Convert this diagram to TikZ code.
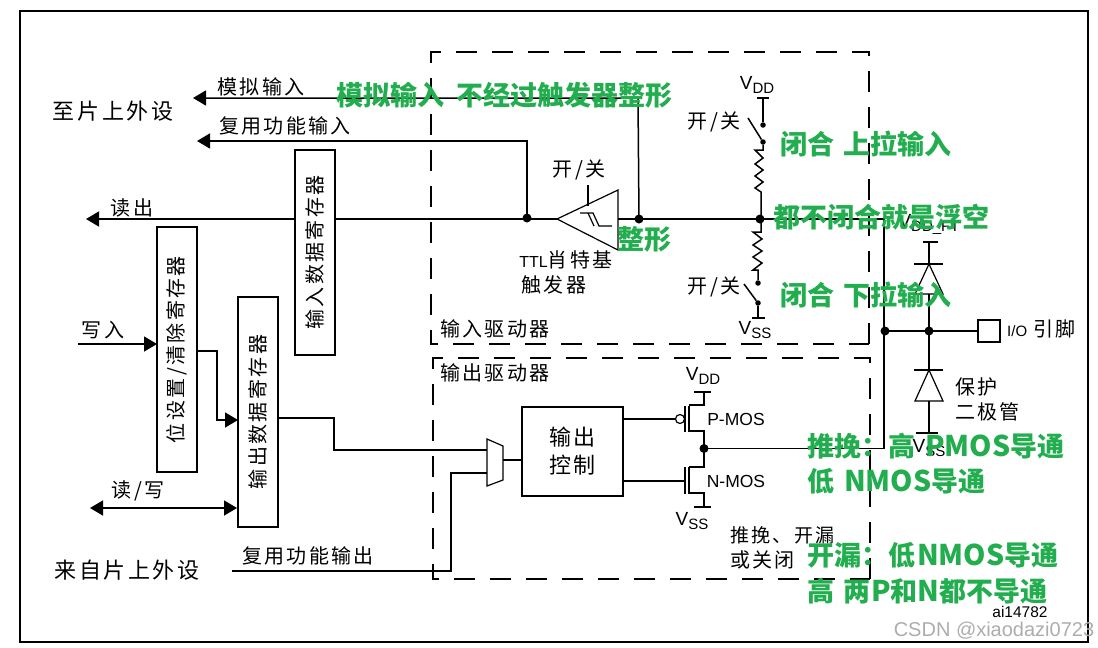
\documentclass[tikz,border=0pt]{standalone}
\usepackage{fontspec}
\usetikzlibrary{arrows.meta,shapes.geometric}
\setmainfont{Liberation Sans}
\newfontfamily\cjk[LetterSpace=12]{Noto Sans CJK SC}
\newfontfamily\gcjk{Noto Sans CJK SC}
\definecolor{anno}{RGB}{34,174,78}
\newcommand{\VV}[2]{{\fontsize{19}{19}\selectfont #1}\raisebox{-4pt}{\fontsize{15}{15}\selectfont #2}}
\newcommand{\gp}[1]{\hspace*{#1pt}}
\newcommand{\LL}[1]{{\fontsize{28.5}{28}\selectfont #1}}
\tikzset{
  wire/.style={draw=black,line width=1.5pt},
  thin wire/.style={draw=black,line width=1.2pt},
  arr/.style={wire,-{Triangle[length=13pt,width=15pt]}},
  darr/.style={wire,{Triangle[length=13pt,width=15pt]}-{Triangle[length=13pt,width=15pt]}},
  dashbox/.style={draw=black,line width=1.2pt,dash pattern=on 21pt off 15pt},
  reg/.style={draw=black,line width=1.7pt,fill=white,rotate=90,inner sep=0pt,font=\cjk\fontsize{20}{20}\selectfont},
  dotn/.style={circle,fill=black,inner sep=0pt,minimum size=9pt},
  sdot/.style={circle,fill=black,inner sep=0pt,minimum size=5.5pt},
  lbl/.style={inner sep=0pt,text=black,font=\cjk\fontsize{20}{20}\selectfont},
  lat/.style={inner sep=0pt,text=black,font=\fontsize{17.5}{17.5}\selectfont},
  note/.style={inner sep=0pt,text=anno,font=\gcjk\bfseries\fontsize{27}{27}\selectfont},
}
\begin{document}
\begin{tikzpicture}[x=1pt,y=-1pt]
\useasboundingbox (0,0) rectangle (1098,648);
\fill[white] (0,0) rectangle (1098,648);
\draw[line width=1.7pt] (20,11) rectangle (1088,642);
% driver frames
\draw[dashbox] (869,344) -- (869,52) -- (431,52) -- (431,344) -- cycle;
\draw[dashbox] (870,579) -- (870,358) -- (433,358) -- (433,579) -- cycle;

% junctions
\node[dotn] (jread) at (527,218) {};
\node[dotn] (jtrig) at (639,219) {};
\node[dotn] (jpull) at (760,219) {};
\node[dotn] (jout) at (704,448.5) {};
\node[dotn] (jio1) at (885,331) {};
\node[dotn] (jio2) at (929,331) {};

% schmitt trigger
\coordinate (tip) at (557,219);
\coordinate (trigt) at (618,190);
\coordinate (trigb) at (618,250);
\coordinate (trigout) at (618,219);
\draw[thin wire] (tip) -- (trigt) -- (trigb) -- cycle;
\draw[thin wire] (588,185) -- (588,206);
\draw[thin wire] (580,213) -- (593,213) -- (599,226) -- (612,226);
\draw[thin wire] (588,213) -- (594,226);

% analog / alternate / read wires
\coordinate (analog) at (193,98);
\coordinate (analogc) at (638,98);
\coordinate (alt) at (197,141);
\coordinate (altc) at (527,141);
\coordinate (readend) at (86,219);
\draw[arr] (jtrig.center) -- (analogc) -- (analog);
\draw[arr] (jread.center) -- (altc) -- (alt);
\draw[arr] (tip) -- (readend);
\draw[wire] (trigout) -- (jpull.center);

% registers
\node[reg,minimum width=205pt,minimum height=40pt] (inreg) at (315,252.5) {输入数据寄存器};
\node[reg,minimum width=245pt,minimum height=40pt] (bsr) at (177,349.5) {位设置/清除寄存器};
\node[reg,minimum width=230pt,minimum height=40pt] (outreg) at (258,412) {输出数据寄存器};

% left wires
\coordinate (wr) at (78,344);
\coordinate (bsrin) at (157,344);
\coordinate (bsrout) at (197,351);
\coordinate (oregin) at (238,420);
\coordinate (rw) at (90,508);
\coordinate (rwend) at (237,508);
\draw[arr] (wr) -- (bsrin);
\draw[arr] (bsrout) -- (217,351) -- (217,420) -- (oregin);
\draw[darr] (rw) -- (rwend);

% mux and control
\node[draw=black,line width=1.7pt,minimum width=101pt,minimum height=89pt,inner sep=0pt,font=\cjk\fontsize{22}{28}\selectfont,align=center] (ctrl) at (572.5,451.5) {输出\\控制};
\coordinate (muxa) at (487,439);
\coordinate (muxb) at (503,446);
\coordinate (muxc) at (503,480);
\coordinate (muxd) at (487,486);
\draw[thin wire] (muxa) -- (muxb) -- (muxc) -- (muxd) -- cycle;
\coordinate (muxin1) at (487,450);
\coordinate (muxin2) at (487,473);
\coordinate (muxout) at (503,460);
\coordinate (oregout) at (278,418);
\coordinate (altout) at (232,571);
\draw[wire] (oregout) -- (334,418) -- (334,450) -- (muxin1);
\draw[wire] (altout) -- (451,571) -- (451,473) -- (muxin2);
\draw[wire] (muxout) -- (ctrl.west |- muxout);

% MOS pair
\node[circle,draw=black,line width=1.2pt,inner sep=0pt,minimum size=9pt] (bubble) at (680,419) {};
\draw[wire] (ctrl.east |- bubble) -- (bubble.west);
\draw[wire] (ctrl.east |- 0,481) -- (685,481);
\draw[wire] (685,406) -- (685,432);
\draw[wire] (685,467) -- (685,494);
\draw[wire] (689,406) -- (689,432);
\draw[wire] (689,467) -- (689,494);
\draw[wire] (694,392) -- (711,392);
\draw[wire] (704,392) -- (704,405) -- (689,405);
\draw[wire] (689,431) -- (704,431) -- (jout.center) -- (704,467) -- (689,467);
\draw[wire] (689,493) -- (704,493) -- (704,507);
\draw[wire] (694,507) -- (711,507);

% pull-up branch
\draw[wire] (757,98) -- (769,98);
\node[sdot] (su1) at (763,125) {};
\node[sdot] (su2) at (763,142) {};
\draw[wire] (763,98) -- (su1);
\draw[wire] (748,118) -- (su2);
\draw[wire] (su2) -- (763,150) -- (755,150) -- (763,158) -- (755,164) -- (763,170) -- (755,176) -- (763,182) -- (755,188) -- (761,192) -- (761,219);
\node[sdot] (sd1) at (758,283) {};
\node[sdot] (sd2) at (758,303) {};
\draw[wire] (761,219) -- (761,232) -- (753,232) -- (762,239) -- (753,245) -- (762,251) -- (753,257) -- (762,263) -- (753,270) -- (758,270) -- (sd1);
\draw[wire] (744,284) -- (sd2);
\draw[wire] (sd2) -- (758,318);
\draw[wire] (752,318) -- (765,318);

% pad
\node[draw=black,line width=1.5pt,minimum size=22pt,inner sep=0pt] (pad) at (989,331) {};
\draw[wire] (jpull.center) -- (884,219) -- (884,448.5) -- (jout.center);
\draw[wire] (jio1.center) -- (pad.west);

% protection diodes
\draw[wire] (923,242) -- (938,242);
\draw[wire] (914,264) -- (943,264);
\draw[thin wire] (929,264) -- (915,294) -- (943,294) -- cycle;
\draw[wire] (929,242) -- (929,264);
\draw[wire] (929,294) -- (jio2.center) -- (929,370);
\draw[wire] (914,370) -- (943,370);
\draw[thin wire] (929,370) -- (915,401) -- (943,401) -- cycle;
\draw[wire] (929,401) -- (929,433);
\draw[wire] (916,433) -- (938,433);

% labels
\node[lbl] (t1) at (261,87) {模拟输入};
\node[lbl] (t2) at (285,126) {复用功能输入};
\node[lbl,font=\cjk\fontsize{22}{22}\selectfont] (t3) at (113,111) {至片上外设};
\node[lbl] (t4) at (132,208) {读出};
\node[lbl] (t5) at (103,330) {写入};
\node[lbl] (t6) at (138,491) {读/写};
\node[lbl] (t7) at (308,556) {复用功能输出};
\node[lbl,font=\cjk\fontsize{22}{22}\selectfont] (t8) at (127,570) {来自片上外设};
\node[lbl] (t9) at (495,329) {输入驱动器};
\node[lbl] (t10) at (495,373) {输出驱动器};
\node[lbl] (t11) at (579,170) {开/关};
\node[lbl] (t12) at (714,122) {开/关};
\node[lbl] (t13) at (714,287) {开/关};
\node[lbl] (t14) at (566,260) {\fontspec{Liberation Sans}\fontsize{16}{16}\selectfont TTL\cjk\fontsize{20}{20}\selectfont 肖特基};
\node[lbl] (t15) at (554,285) {触发器};
\node[lbl,anchor=west,font=\cjk\fontsize{19}{19}\selectfont] (t16) at (730,535) {推挽、开漏};
\node[lbl,anchor=west] (t16b) at (730,560) {或关闭};
\node[lbl,anchor=west] (t17) at (955,387) {保护};
\node[lbl,anchor=west] (t18) at (955,412) {二极管};
\node[lat,anchor=west] (t19) at (1007,329) {\fontsize{15}{15}\selectfont I/O\gp{6}\cjk\fontsize{20}{20}\selectfont 引脚};
\node[lat] (t20) at (736,419) {P-MOS};
\node[lat] (t21) at (736,481) {N-MOS};
\node[lat] (v1) at (757,85) {\VV{V}{DD}};
\node[lat] (v2) at (755,330) {\VV{V}{SS}};
\node[lat] (v3) at (703,376) {\VV{V}{DD}};
\node[lat] (v4) at (692,521) {\VV{V}{SS}};
\node[lat] (v5) at (929,224) {\VV{V}{DD\_FT}};
\node[lat] (v6) at (929,448) {\VV{V}{SS}};
\node[lat,font=\fontsize{15.5}{15.5}\selectfont] (ai) at (1020,612) {ai14782};
\node[inner sep=0pt,text=black!32,font=\fontsize{20}{20}\selectfont] (wm) at (994,631) {CSDN @xiaodazi0723};

% annotations
\node[note,anchor=west] (n1) at (336,95) {模拟输入\gp{12}不经过触发器整形};
\node[note,anchor=west] (n2) at (617,239) {整形};
\node[note,anchor=west] (n3) at (780,144) {闭合\gp{9}上拉输入};
\node[note,anchor=west] (n4) at (773,217) {都不闭合就是浮空};
\node[note,anchor=west] (n5) at (780,295) {闭合\gp{9}下拉输入};
\node[note,anchor=west] (n6) at (807,446) {推挽：高\gp{10}\LL{PMOS}导通};
\node[note,anchor=west] (n7) at (807,481) {低\gp{10}\LL{NMOS}导通};
\node[note,anchor=west] (n8) at (807,555) {开漏：低\gp{2}\LL{NMOS}导通};
\node[note,anchor=west] (n9) at (807,591) {高\gp{9}两\gp{1}\LL{P}和\LL{N}都不导通};
\end{tikzpicture}
\end{document}
